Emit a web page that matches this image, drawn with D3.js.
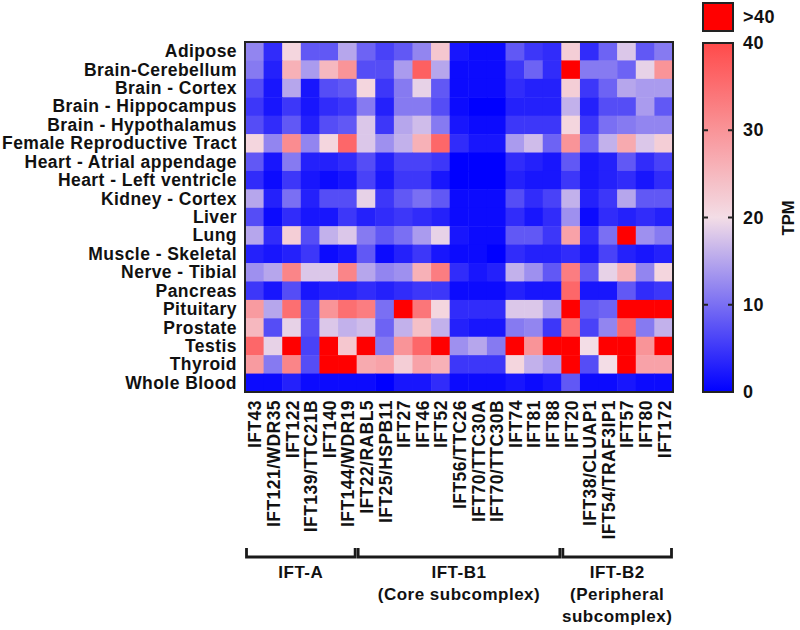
<!DOCTYPE html>
<html><head><meta charset="utf-8">
<script src="https://cdn.jsdelivr.net/npm/d3@7"></script>
<style>
body{margin:0;background:#fff;}
text{font-family:"Liberation Sans",Arial,sans-serif;font-weight:bold;fill:#111;}
</style></head>
<body><svg id="c" width="800" height="630"></svg>
<script>
const tissues = ["Adipose","Brain-Cerebellum","Brain - Cortex","Brain - Hippocampus","Brain - Hypothalamus","Female Reproductive Tract","Heart - Atrial appendage","Heart - Left ventricle","Kidney - Cortex","Liver","Lung","Muscle - Skeletal","Nerve - Tibial","Pancreas","Pituitary","Prostate","Testis","Thyroid","Whole Blood"];
const genes = ["IFT43","IFT121/WDR35","IFT122","IFT139/TTC21B","IFT140","IFT144/WDR19","IFT22/RABL5","IFT25/HSPB11","IFT27","IFT46","IFT52","IFT56/TTC26","IFT70/TTC30A","IFT70/TTC30B","IFT74","IFT81","IFT88","IFT20","IFT38/CLUAP1","IFT54/TRAF3IP1","IFT57","IFT80","IFT172"];
const groupNames = [["IFT-A"],["IFT-B1","(Core subcomplex)"],["IFT-B2","(Peripheral","subcomplex)"]];
const groupStart = [0,6,17];
const groupEnd = [5,16,22];
const colorTicks = [0,10,20,30,40];
// TPM values (values shown as >40 entered as 45)
const tpm = [
[12,4,21,8,8,15,9,6,8,12,23,2,1,1,8,5,4,22,4,9,18,8,11],
[11,3,26,14,25,30,7,7,14,37,15,1,1,1,5,9,4,45,11,11,9,19,30],
[7,2,15,2,7,8,21,5,11,19,8,1,1,1,4,3,3,22,5,9,15,14,14],
[5,2,5,2,4,5,11,3,11,11,7,1,0,0,3,3,3,16,3,7,7,14,8],
[7,4,8,3,7,8,18,5,15,17,11,2,1,1,5,5,5,21,5,10,11,12,12],
[21,12,31,12,21,36,18,13,16,26,36,4,2,2,14,17,9,30,9,16,27,18,22],
[8,2,11,3,3,4,7,3,6,6,5,0,0,0,4,3,2,8,2,3,8,4,6],
[4,1,5,2,1,2,6,2,5,5,2,0,0,0,3,2,2,5,2,3,4,2,4],
[15,3,10,3,7,7,19,5,8,10,8,1,1,1,7,4,6,16,3,5,15,8,8],
[7,1,4,2,2,5,3,4,5,4,3,1,1,1,4,2,4,13,1,4,3,4,3],
[15,4,22,7,16,18,11,8,10,14,19,2,1,1,8,8,5,28,4,10,45,13,11],
[3,2,3,5,1,2,8,1,3,5,2,1,1,0,4,3,3,4,2,6,3,2,3],
[13,15,32,18,18,32,15,12,13,26,33,4,2,3,16,13,8,33,8,19,26,12,21],
[5,2,7,2,3,3,4,3,4,5,5,1,1,1,3,2,2,36,2,2,8,4,5],
[29,15,35,7,30,35,33,10,45,34,21,4,4,4,18,18,14,45,8,9,45,45,45],
[25,7,19,7,18,16,17,9,16,24,16,3,2,2,11,12,5,35,6,12,36,11,16],
[36,19,45,6,45,23,45,11,30,36,45,13,15,11,45,30,45,45,20,45,45,30,45],
[29,11,32,7,45,45,27,28,22,28,26,5,5,5,21,16,14,45,7,20,45,28,28],
[1,1,3,1,1,1,1,0,2,2,4,1,1,1,2,1,2,8,1,1,2,1,1]
];

const svg = d3.select("#c");
const L=245, R=673, T=42, B=392;
const x = d3.scaleBand().domain(genes).range([L,R]);
const y = d3.scaleBand().domain(tissues).range([T,B]);
const col = d3.scaleLinear().domain([0,20,40]).range(["#0000ff","#f3dde6","#ff4a4a"]).clamp(true);
const fill = v => v>40 ? "#ff0000" : col(v);

const cells=[];
tpm.forEach((row,i)=>row.forEach((v,j)=>cells.push({t:tissues[i],g:genes[j],v})));
svg.append("g").selectAll("rect").data(cells).join("rect")
  .attr("x",d=>x(d.g)).attr("y",d=>y(d.t))
  .attr("width",x.bandwidth()+0.5).attr("height",y.bandwidth()+0.5)
  .attr("fill",d=>fill(d.v));
svg.append("rect").attr("x",L).attr("y",T).attr("width",R-L).attr("height",B-T)
  .attr("fill","none").attr("stroke","#222").attr("stroke-width",2);

// row labels
svg.append("g").selectAll("text").data(tissues).join("text")
  .attr("x",237).attr("y",d=>y(d)+y.bandwidth()/2)
  .attr("text-anchor","end").attr("dominant-baseline","central")
  .style("font-size","17.5px").style("letter-spacing","0.45px").text(d=>d);

// column labels
svg.append("g").selectAll("text").data(genes).join("text")
  .attr("transform",d=>`translate(${x(d)+x.bandwidth()/2+1},400) rotate(-90)`)
  .attr("text-anchor","end").attr("dominant-baseline","central")
  .style("font-size","17.5px").style("letter-spacing","0.45px").text(d=>d);

// group brackets
const gb = svg.append("g");
groupNames.forEach((names,k)=>{
  const x0 = x(genes[groupStart[k]])+1.5, x1 = x(genes[groupEnd[k]])+x.bandwidth()-1.5;
  gb.append("path").attr("d",`M${x0},548V557H${x1}V548`)
    .attr("fill","none").attr("stroke","#1a1a1a").attr("stroke-width",2.8);
  names.forEach((n,m)=>{
    gb.append("text").attr("x",(x0+x1)/2).attr("y",578+m*22).attr("text-anchor","middle")
      .style("font-size","17px").style("letter-spacing","0.5px").text(n);
  });
});

// color bar
const cx0=703, cw=30;
const cy = d3.scaleLinear().domain([0,40]).range([B,43]);
const defs = svg.append("defs");
const grad = defs.append("linearGradient").attr("id","g").attr("x1",0).attr("y1",1).attr("x2",0).attr("y2",0);
d3.range(0,41,2).forEach(v=>grad.append("stop").attr("offset",v/40).attr("stop-color",col(v)));
svg.append("rect").attr("x",cx0).attr("y",43).attr("width",cw).attr("height",B-43)
  .attr("fill","url(#g)").attr("stroke","#222").attr("stroke-width",2);
svg.append("g").selectAll("path").data(colorTicks.slice(1,4)).join("path")
  .attr("d",d=>`M${cx0},${cy(d)}h5M${cx0+cw},${cy(d)}h-5`).attr("stroke","#222").attr("stroke-width",2);
svg.append("g").selectAll("text").data(colorTicks).join("text")
  .attr("x",743).attr("y",d=>cy(d)).attr("dominant-baseline","central")
  .style("font-size","18px").style("letter-spacing","0.5px").text(d=>d);
svg.append("rect").attr("x",cx0).attr("y",3).attr("width",cw).attr("height",28)
  .attr("fill","#ff0000").attr("stroke","#222").attr("stroke-width",2);
svg.append("text").attr("x",743).attr("y",17).attr("dominant-baseline","central")
  .style("font-size","18px").style("letter-spacing","0.5px").text(">40");
svg.append("text").attr("transform","translate(788,218) rotate(-90)").attr("text-anchor","middle")
  .attr("dominant-baseline","central").style("font-size","16.5px").text("TPM");
</script></body></html>
